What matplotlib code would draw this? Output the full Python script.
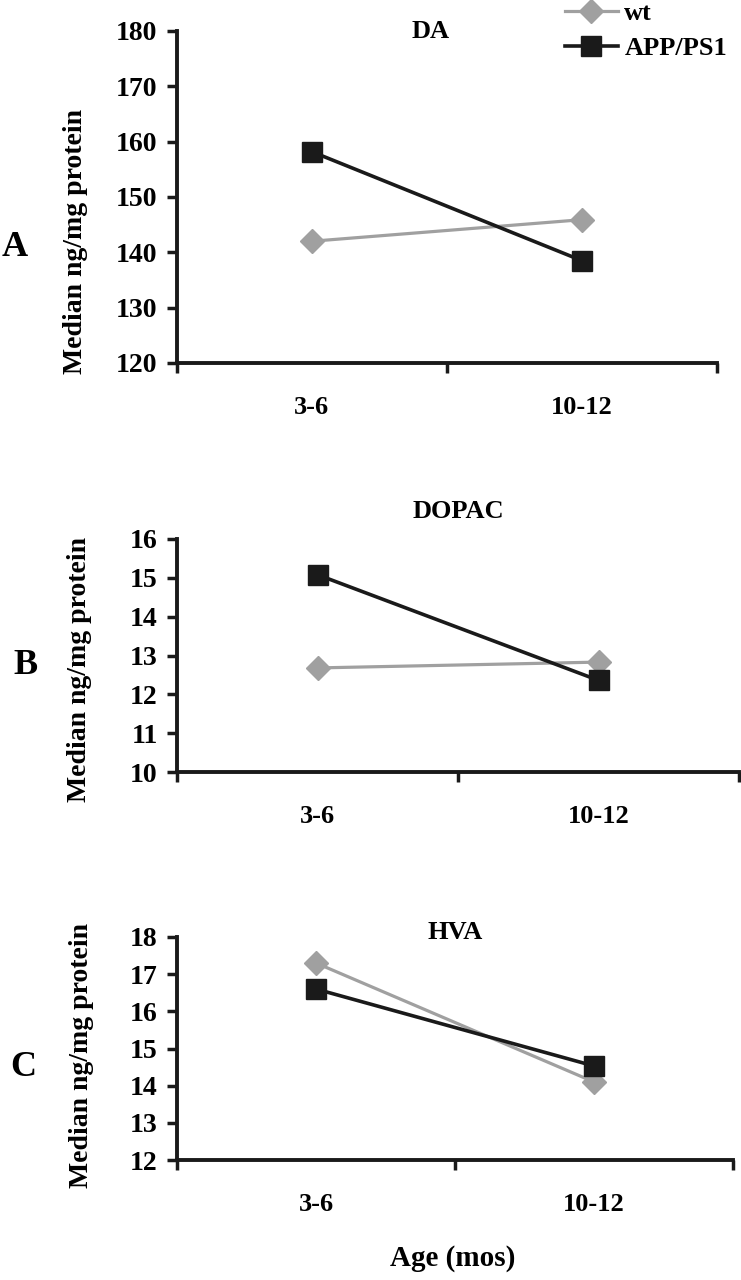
import numpy as np
import matplotlib
matplotlib.use("Agg")
import matplotlib.pyplot as plt
from matplotlib.lines import Line2D

plt.rcParams['font.family'] = ['Liberation Serif', 'DejaVu Serif']
plt.rcParams['font.weight'] = 'bold'

# data
ages = ['3-6', '10-12']
panels = ['A', 'B', 'C']
titles = ['DA', 'DOPAC', 'HVA']
wt = [[142.0, 145.9], [12.68, 12.83], [17.3, 14.1]]
app = [[158.2, 138.5], [15.08, 12.36], [16.6, 14.53]]
yticks = [np.arange(120, 181, 10), np.arange(10, 17, 1), np.arange(12, 19, 1)]

GRAY = '#a0a0a0'
BLACK = '#1a1a1a'

fig = plt.figure(figsize=(7.41, 12.8), dpi=100)
W, H = 741.0, 1280.0

# axes boxes in pixels: left, right, top, bottom
boxes = [(176.5, 717, 31, 363), (177, 739, 539, 772), (177, 733, 937, 1160)]
title_pos = [(0.94, 0.997), (1.0, 1.116), (1.0, 1.022)]
letter_xy = [(15, 248), (25, 665), (23, 1067)]
ylab_xy = [(76, 241), (80, 670), (82, 1055)]

axes = []
for i in range(3):
    l, r, t, b = boxes[i]
    ax = fig.add_axes([l / W, 1 - b / H, (r - l) / W, (b - t) / H])
    axes.append(ax)
    x = np.arange(len(ages)) + 0.5
    ax.plot(x, wt[i], color=GRAY, lw=2.3, marker='D', ms=12, mec=GRAY, mfc=GRAY)
    ax.plot(x, app[i], color=BLACK, lw=2.6, marker='s', ms=14, mec=BLACK, mfc=BLACK)

    ax.set_xlim(0, 2)
    ax.set_ylim(yticks[i][0], yticks[i][-1])
    ax.set_yticks(yticks[i])
    ax.set_xticks([0, 1, 2])
    ax.set_xticklabels([])
    ax.set_xticks(x, minor=True)
    ax.set_xticklabels(ages, minor=True)
    ax.tick_params(axis='x', which='minor', length=0, pad=24, labelsize=19)
    ax.tick_params(axis='both', which='major', direction='out', length=7,
                   width=2.5, color=BLACK, labelsize=20, pad=7)
    for s in ['top', 'right']:
        ax.spines[s].set_visible(False)
    for s in ['left', 'bottom']:
        ax.spines[s].set_linewidth(2.8)
        ax.spines[s].set_color(BLACK)
    ax.set_facecolor('none')

    tx, ty = title_pos[i]
    ax.text(tx, ty, titles[i], transform=ax.get_xaxis_transform(),
            ha='center', va='center', fontsize=19, fontweight='bold')

    lx, ly = letter_xy[i]
    fig.text(lx / W, 1 - ly / H, panels[i], ha='center', va='center',
             fontsize=26, fontweight='bold')
    yx, yy = ylab_xy[i]
    fig.text(yx / W, 1 - yy / H, 'Median ng/mg protein', rotation=90,
             ha='center', va='center', fontsize=20, fontweight='bold')

fig.text(453 / W, 1 - 1258 / H, 'Age (mos)', ha='center', va='center',
         fontsize=21, fontweight='bold')

handles = [Line2D([], [], color=GRAY, lw=2.3, marker='D', ms=12, mec=GRAY),
           Line2D([], [], color=BLACK, lw=2.6, marker='s', ms=14, mec=BLACK)]
fig.legend(handles, ['wt', 'APP/PS1'], loc='upper left',
           bbox_to_anchor=(565 / W, 0.999), frameon=False, fontsize=19,
           handlelength=2.0, handletextpad=0.25, labelspacing=0.45,
           borderpad=0, borderaxespad=0)

fig.savefig('out.png', dpi=100, facecolor='white')
